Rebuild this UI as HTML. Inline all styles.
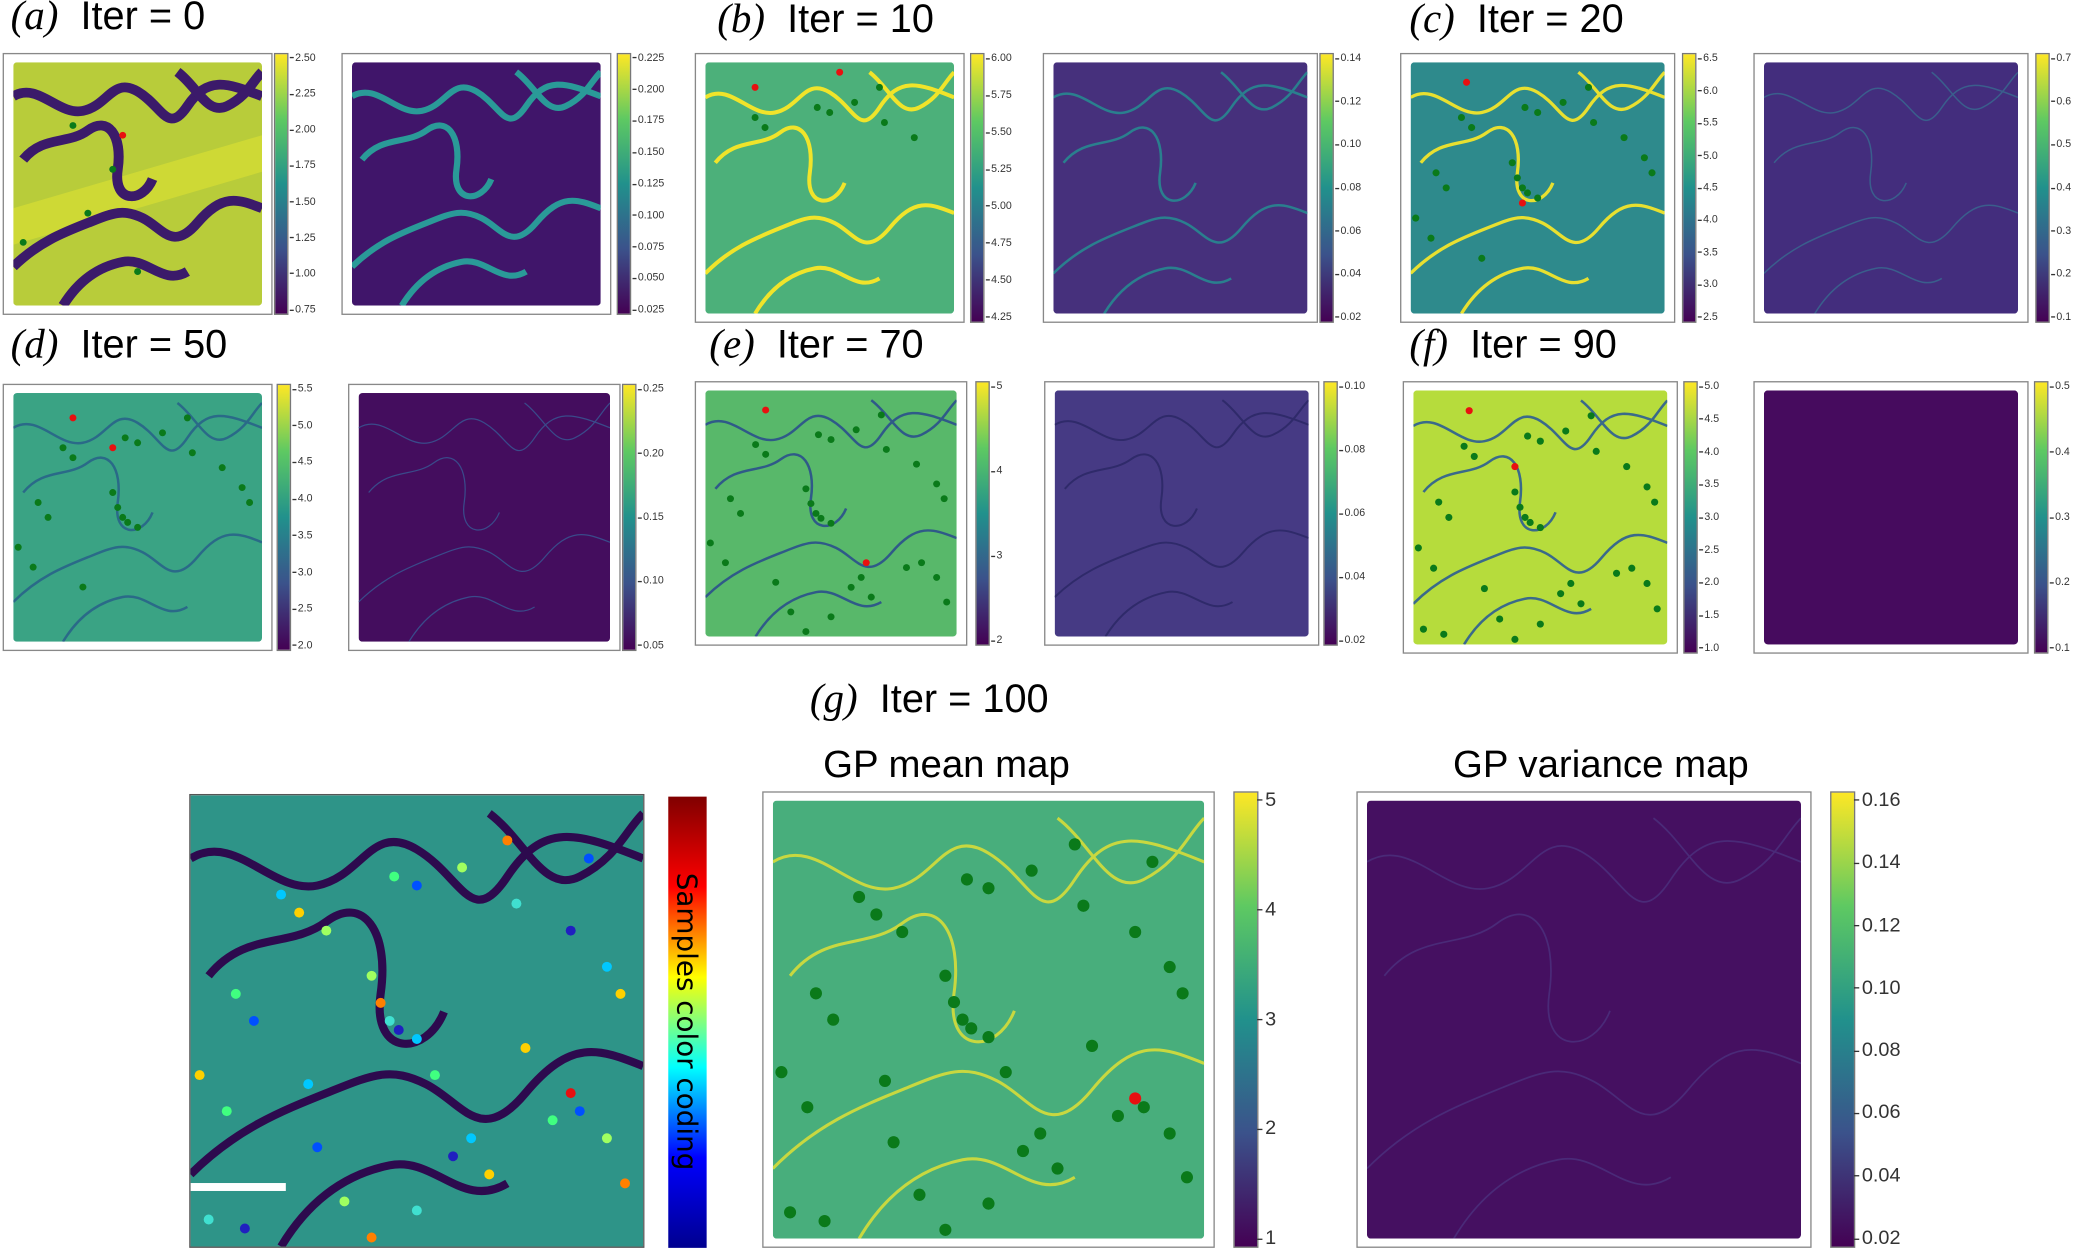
<!DOCTYPE html>
<html><head><meta charset="utf-8">
<style>
html,body{margin:0;padding:0;background:#fff;width:2075px;height:1255px;overflow:hidden}
#c{position:absolute;left:0;top:0;width:1568px;height:948px;transform:scale(1.3233);transform-origin:0 0;font-family:"Liberation Sans",sans-serif}
.lab{position:absolute;font-size:30px;color:#000;white-space:nowrap;font-family:"Liberation Sans",sans-serif}
.lab i{font-family:"Liberation Serif",serif;font-size:31px}
.tt{position:absolute;font-size:29px;white-space:nowrap}
.box{position:absolute;border:1.2px solid #888;background:#fff;box-sizing:border-box}
.img{position:absolute;border-radius:3px;overflow:hidden}
.cb{position:absolute;border:0.8px solid #777;box-sizing:border-box;background:linear-gradient(to top,#440154,#3b528b,#21918c,#5ec962,#fde725)}
.tk{position:absolute;font-size:8px;color:#333;white-space:nowrap}
.tk:before{content:"";position:absolute;left:-4px;top:50%;width:3px;border-top:0.8px solid #333}
.tkb{font-size:15px}
.tkb:before{left:-6px;width:4px}
</style></head><body><div id="c"></div>
<script>
var C=document.getElementById('c');
function add(h){C.insertAdjacentHTML('beforeend',h);}
var P1="M0,14 C10,8 18,22 28,20 S40,6 50,12 S62,30 70,18 S85,8 100,14";
var P2="M4,40 C12,30 22,34 30,28 S44,30 42,44 S52,58 56,48";
var P3="M0,84 C10,74 20,70 30,66 S44,60 52,64 S64,78 74,66 S90,56 100,60";
var P4="M20,100 C26,90 34,84 44,82 S60,92 70,86";
var P5="M66,4 C74,10 78,22 86,18 S96,8 100,4";
function svg(base,line,w,dots,red,opts){
  opts=opts||{};
  var s='<svg width="100%" height="100%" viewBox="0 0 100 100" preserveAspectRatio="none">';
  s+='<rect width="100" height="100" fill="'+base+'"/>';
  if(opts.band)s+='<path d="M0,60 L100,30 L100,45 L0,75Z" fill="'+opts.band+'" opacity="0.45"/>';
  [P1,P2,P3,P4,P5].forEach(function(p){s+='<path d="'+p+'" fill="none" stroke="'+line+'" stroke-width="'+w+'"/>';});
  (dots||[]).forEach(function(d){s+='<ellipse cx="'+d[0]+'" cy="'+d[1]+'" rx="'+(opts.r||1.4)+'" ry="'+(opts.r||1.4)+'" fill="'+(d[2]||'#0a7a1a')+'"/>';});
  (red||[]).forEach(function(d){s+='<ellipse cx="'+d[0]+'" cy="'+d[1]+'" rx="'+(opts.r||1.4)+'" ry="'+(opts.r||1.4)+'" fill="#e81010"/>';});
  return s+'</svg>';
}
var D=[[20,22],[24,26],[45,18],[50,20],[60,16],[70,10],[72,24],[84,30],[92,38],[95,44],[10,44],[14,50],[40,40],[42,46],[44,50],[46,52],[50,54],[2,62],[8,70],[28,78],[34,90],[40,98],[50,92],[58,80],[62,76],[66,84],[80,72],[86,70],[92,76],[96,86],[4,94],[12,96],[26,64],[74,56],[54,62],[88,14],[30,30]];
function panel(bx,by,bw,bh,cx,cw,ticks,base,line,lw,dots,red,opts){
  add('<div class="box" style="left:'+bx+'px;top:'+by+'px;width:'+bw+'px;height:'+bh+'px"></div>');
  var ix=bx+8,iy=by+7,iw=bw-16,ih=bh-14;
  add('<div class="img" style="left:'+ix+'px;top:'+iy+'px;width:'+iw+'px;height:'+ih+'px">'+svg(base,line,lw,dots,red,opts)+'</div>');
  add('<div class="cb" style="left:'+cx+'px;top:'+by+'px;width:'+cw+'px;height:'+bh+'px"></div>');
  var n=ticks.length;
  for(var i=0;i<n;i++){
    var y=by+bh*(0.02+0.96*i/(n-1));
    add('<div class="tk'+(opts&&opts.big?' tkb':'')+'" style="left:'+(cx+cw+5)+'px;top:'+(y-(opts&&opts.big?9:5))+'px">'+ticks[i]+'</div>');
  }
}
function lab(x,y,l,t){add('<div class="lab" style="left:'+x+'px;top:'+y+'px"><i>('+l+')</i>&nbsp; '+t+'</div>');}
lab(8,-6,'a','Iter = 0');lab(542,-4,'b','Iter = 10');lab(1065,-4,'c','Iter = 20');
lab(8,242,'d','Iter = 50');lab(536,242,'e','Iter = 70');lab(1065,242,'f','Iter = 90');
lab(612,510,'g','Iter = 100');
var few=D.slice(0,8),mid=D.slice(0,20);
panel(2,40,204,198,207,11,['2.50','2.25','2.00','1.75','1.50','1.25','1.00','0.75'],'#b8cc3a','#3b1a6a',4,[[24,26],[40,44],[4,74],[30,62],[50,86]],[[44,30]],{band:'#e8e830'});
panel(258,40,204,198,466,11,['0.225','0.200','0.175','0.150','0.125','0.100','0.075','0.050','0.025'],'#40156a','#2a9a98',2.5,[],[]);
panel(525,40,204,204,733,11,['6.00','5.75','5.50','5.25','5.00','4.75','4.50','4.25'],'#4cb07a','#f0e42a',1.6,few,[[54,4],[20,10]]);
panel(788,40,208,204,997,11,['0.14','0.12','0.10','0.08','0.06','0.04','0.02'],'#46307c','#2a7f8e',1,[],[]);
panel(1058,40,208,204,1271,11,['6.5','6.0','5.5','5.0','4.5','4.0','3.5','3.0','2.5'],'#2e8a8c','#e8e030',1.3,mid,[[22,8],[44,56]]);
panel(1325,40,208,204,1538,11,['0.7','0.6','0.5','0.4','0.3','0.2','0.1'],'#432d7d','#3a5e8c',0.6,[],[]);
panel(2,290,204,202,209,11,['5.5','5.0','4.5','4.0','3.5','3.0','2.5','2.0'],'#3aa384','#2a6a88',1,mid,[[24,10],[40,22]]);
panel(263,290,206,202,470,11,['0.25','0.20','0.15','0.10','0.05'],'#440d5e','#3a4a8a',0.5,[],[]);
panel(525,288,206,200,737,11,['5','4','3','2'],'#58b86a','#2f5a88',1,D.slice(0,30),[[24,8],[64,70]]);
panel(789,288,208,200,1000,11,['0.10','0.08','0.06','0.04','0.02'],'#463a84','#2f2a6a',0.8,[],[]);
panel(1060,288,208,206,1272,11,['5.0','4.5','4.0','3.5','3.0','2.5','2.0','1.5','1.0'],'#b6dc3c','#3a6a8a',1,D.slice(0,32),[[22,8],[40,30]]);
panel(1325,288,208,206,1537,11,['0.5','0.4','0.3','0.2','0.1'],'#460b5e','#460b5e',0,[],[]);
var jet=['#00c8ff','#ffd000','#40ff80','#0050ff','#a0ff60','#ff8000','#40e0d0','#2020c0'];
var gd=D.map(function(d,i){return [d[0],d[1],jet[i%8]];});
add('<div style="position:absolute;left:143px;top:600px;width:344px;height:343px;border:1px solid #555;box-sizing:border-box;overflow:hidden">'+svg('#2e9488','#2d0a4e',1.8,gd,[[84,66]],{r:1.1})+'<div style="position:absolute;left:0;top:86%;width:21%;height:1.6%;background:#fff"></div></div>');
add('<div style="position:absolute;left:505px;top:602px;width:29px;height:341px;background:linear-gradient(to top,#00008f,#0000ff,#00ffff,#ffff00,#ff0000,#800000)"></div>');
add('<div style="position:absolute;left:519px;top:772px;transform:translate(-50%,-50%) rotate(90deg);font-size:21px;white-space:nowrap;font-family:\'DejaVu Sans\',sans-serif">Samples color coding</div>');
add('<div class="tt" style="left:622px;top:562px">GP mean map</div>');
add('<div class="tt" style="left:1098px;top:562px">GP variance map</div>');
panel(576,598,342,345,932,19,['5','4','3','2','1'],'#48ae7c','#c8d840',0.7,D,[[84,68]],{big:1,r:1.4});
panel(1025,598,344,345,1383,19,['0.16','0.14','0.12','0.10','0.08','0.06','0.04','0.02'],'#451061','#4a2a78',0.4,[],[],{big:1});
</script></body></html>
